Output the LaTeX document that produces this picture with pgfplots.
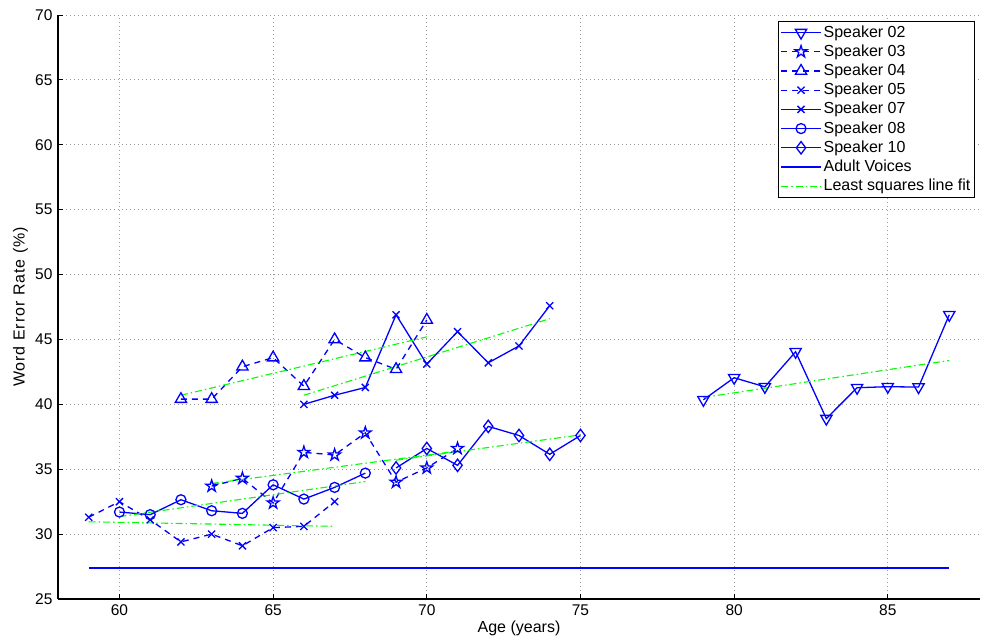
\documentclass[border=0pt]{standalone}
\usepackage{fontspec}
\setmainfont{Liberation Sans}
\newfontfamily\spacedfont[LetterSpace=6]{Liberation Sans}
\usepackage{pgfplots}
\pgfplotsset{compat=1.18}

\definecolor{mblue}{rgb}{0,0,1}
\definecolor{mgreen}{rgb}{0,1,0}

% hollow five-pointed star (outer radius = mark size)
\pgfdeclareplotmark{pentagram}{%
  \pgfpathmoveto{\pgfpointpolar{90}{\pgfplotmarksize}}%
  \pgfpathlineto{\pgfpointpolar{126}{0.382\pgfplotmarksize}}%
  \pgfpathlineto{\pgfpointpolar{162}{\pgfplotmarksize}}%
  \pgfpathlineto{\pgfpointpolar{198}{0.382\pgfplotmarksize}}%
  \pgfpathlineto{\pgfpointpolar{234}{\pgfplotmarksize}}%
  \pgfpathlineto{\pgfpointpolar{270}{0.382\pgfplotmarksize}}%
  \pgfpathlineto{\pgfpointpolar{306}{\pgfplotmarksize}}%
  \pgfpathlineto{\pgfpointpolar{342}{0.382\pgfplotmarksize}}%
  \pgfpathlineto{\pgfpointpolar{18}{\pgfplotmarksize}}%
  \pgfpathlineto{\pgfpointpolar{54}{0.382\pgfplotmarksize}}%
  \pgfpathclose
  \pgfusepathqstroke
}

\pgfplotsset{
  spk/.style={color=mblue, line width=1.3pt},
  dashedspk/.style={spk, dash pattern=on 6pt off 5pt},
  fit/.style={color=mgreen, line width=1.1pt, no marks,
    dash pattern=on 7pt off 3pt on 1.5pt off 3pt},
}

\begin{document}
\fontsize{16}{19}\selectfont
\begin{tikzpicture}[x=1pt,y=1pt]
\path[use as bounding box] (0,0) rectangle (981,641);
\begin{axis}[
  at={(58pt,42pt)}, anchor=south west,
  width=922pt, height=584pt, scale only axis,
  xmin=58, xmax=88, ymin=25, ymax=70,
  xtick={60,65,...,85}, ytick={25,30,...,70},
  axis x line=bottom, axis y line=left,
  axis line style={-, black, line width=1.3pt},
  tick align=inside, major tick length=5pt,
  tick style={black, line width=0.9pt},
  grid=major,
  major grid style={gray!80, line width=0.9pt, dash pattern=on 1pt off 3pt},
  /pgf/number format/assume math mode=true,
  ticklabel style={font=\fontsize{15.5}{18}\selectfont},
  xlabel={Age (years)},
  ylabel={\spacedfont Word Error Rate (\%)},
  xlabel style={font=\fontsize{16}{19}\selectfont,
    at={(axis description cs:0.5,-0.051)}, anchor=center},
  ylabel style={font=\fontsize{16}{19}\selectfont,
    at={(axis description cs:-0.0407,0.5)}, anchor=center},
  legend style={at={(axis description cs:0.9946,0.9897)}, anchor=north east,
    draw=black, line width=1.2pt, fill=white,
    font=\fontsize{16}{19}\selectfont, row sep=1.2pt,
    inner xsep=2pt, inner ysep=2pt},
  legend cell align=left,
  legend image code/.code={%
    \draw[mark repeat=2,mark phase=2,#1]
      plot coordinates {(0pt,0pt) (20pt,0pt) (40pt,0pt)};},
]
% Speaker 02
\addplot[spk, mark=triangle, mark size=6.5, mark options={solid, rotate=180}]
  coordinates {(79,40.35) (80,42.05) (81,41.35) (82,44.05) (83,38.9)
               (84,41.28) (85,41.36) (86,41.33) (87,46.9)};
\addlegendentry{Speaker 02}
% Speaker 03
\addplot[dashedspk, mark=pentagram, mark size=6.2, mark options={solid}]
  coordinates {(63,33.7) (64,34.3) (65,32.4) (66,36.3) (67,36.1)
               (68,37.8) (69,34.0) (70,35.1) (71,36.6)};
\addlegendentry{Speaker 03}
% Speaker 04
\addplot[dashedspk, mark=triangle, mark size=6.5, mark options={solid}]
  coordinates {(62,40.4) (63,40.4) (64,42.9) (65,43.6) (66,41.4)
               (67,45.0) (68,43.6) (69,42.7) (70,46.5)};
\addlegendentry{Speaker 04}
% Speaker 05
\addplot[dashedspk, mark=x, mark size=5, mark options={solid}]
  coordinates {(59,31.3) (60,32.5) (61,31.1) (62,29.4) (63,30.0)
               (64,29.1) (65,30.5) (66,30.6) (67,32.5)};
\addlegendentry{Speaker 05}
% Speaker 07
\addplot[spk, mark=x, mark size=5, mark options={solid}]
  coordinates {(66,40.0) (67,40.7) (68,41.3) (69,46.9) (70,43.1)
               (71,45.6) (72,43.2) (73,44.5) (74,47.6)};
\addlegendentry{Speaker 07}
% Speaker 08
\addplot[spk, mark=o, mark size=5, mark options={solid}]
  coordinates {(60,31.7) (61,31.5) (62,32.65) (63,31.8) (64,31.6)
               (65,33.8) (66,32.7) (67,33.6) (68,34.7)};
\addlegendentry{Speaker 08}
% Speaker 10
\addplot[spk, mark=diamond, mark size=6.2, mark options={solid}]
  coordinates {(69,35.1) (70,36.6) (71,35.3) (72,38.3) (73,37.6)
               (74,36.15) (75,37.6)};
\addlegendentry{Speaker 10}
% Adult reference level
\addplot[spk, no marks] coordinates {(59,27.4) (87,27.4)};
\addlegendentry{Adult Voices}
% least squares fits, one per speaker
\addplot[fit] coordinates {(79,40.53) (87,43.38)};
\addlegendentry{Least squares line fit}
\addplot[fit, forget plot] coordinates {(63,33.9) (71,36.4)};
\addplot[fit, forget plot] coordinates {(62,40.7) (70,45.2)};
\addplot[fit, forget plot] coordinates {(59,30.95) (67,30.6)};
\addplot[fit, forget plot] coordinates {(66,40.7) (74,46.6)};
\addplot[fit, forget plot] coordinates {(60,31.35) (68,34.05)};
\addplot[fit, forget plot] coordinates {(69,35.7) (75,37.65)};
\end{axis}
\end{tikzpicture}
\end{document}
